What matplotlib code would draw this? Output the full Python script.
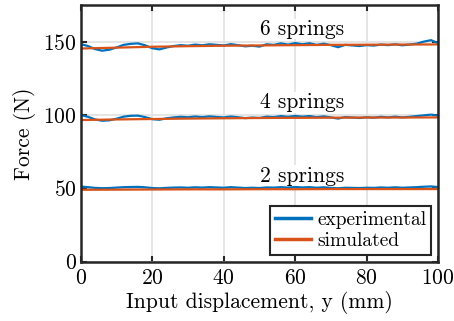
import numpy as np
import matplotlib
matplotlib.use("Agg")
import matplotlib.pyplot as plt

plt.rcParams['font.family'] = 'serif'
plt.rcParams['font.serif'] = ['cmr10']
plt.rcParams['mathtext.fontset'] = 'cm'
plt.rcParams['axes.formatter.use_mathtext'] = True

# experimental data, every 2 mm
x_exp = np.arange(0, 101, 2)
exp6 = [148.4, 147.1, 145.0, 143.9, 144.6, 146.1, 147.9, 148.6, 148.9, 147.6,
        145.6, 144.8, 146.1, 147.1, 147.7, 147.3, 148.1, 147.6, 148.3, 147.9,
        147.5, 148.4, 147.7, 146.9, 147.3, 146.7, 148.3, 147.9, 148.9, 148.1,
        149.1, 148.3, 149.0, 147.9, 148.7, 147.7, 146.3, 147.9, 147.5, 147.1,
        147.7, 147.4, 148.1, 147.7, 148.3, 147.6, 148.1, 148.7, 150.1, 151.1,
        149.1]
exp4 = [100.0, 98.8, 97.0, 96.1, 96.4, 97.5, 98.9, 99.5, 99.6, 98.6,
        97.2, 96.8, 97.8, 98.4, 98.8, 98.5, 99.0, 98.6, 99.1, 98.7,
        98.4, 99.0, 98.5, 97.9, 98.3, 98.0, 98.9, 98.6, 99.3, 98.8,
        99.4, 98.9, 99.3, 98.6, 99.1, 98.4, 97.6, 98.6, 98.3, 98.0,
        98.5, 98.2, 98.8, 98.4, 98.9, 98.4, 98.8, 99.3, 99.8, 100.3,
        99.6]
exp2 = [51.2, 50.8, 50.3, 50.1, 50.2, 50.5, 50.8, 50.9, 51.0, 50.7,
        50.2, 50.0, 50.3, 50.5, 50.6, 50.4, 50.7, 50.5, 50.8, 50.6,
        50.4, 50.8, 50.5, 50.2, 50.4, 50.2, 50.6, 50.5, 50.8, 50.5,
        50.9, 50.6, 50.8, 50.4, 50.7, 50.3, 50.0, 50.4, 50.3, 50.2,
        50.4, 50.3, 50.6, 50.4, 50.7, 50.4, 50.6, 50.8, 51.1, 51.3,
        50.9]

# simulated data, every 10 mm
x_sim = np.arange(0, 101, 10)
sim6 = [145.4, 146.0, 146.6, 147.0, 147.3, 147.5, 147.7, 147.9, 148.0, 148.1, 148.2]
sim4 = [96.6, 97.0, 97.3, 97.6, 97.8, 98.0, 98.1, 98.2, 98.3, 98.3, 98.4]
sim2 = [49.0, 49.1, 49.2, 49.3, 49.3, 49.4, 49.4, 49.5, 49.5, 49.5, 49.5]

labels = ["6 springs", "4 springs", "2 springs"]
label_y = [158.7, 108.8, 58.5]

blue = '#0072BD'
orange = '#D95319'
fs = 15.5

fig = plt.figure(figsize=(4.54, 3.21), dpi=100)
ax = fig.add_axes([0.178, 0.185, 0.787, 0.799])

for i, (e, s) in enumerate([(exp6, sim6), (exp4, sim4), (exp2, sim2)]):
    ax.plot(x_exp, e, color=blue, lw=1.6,
            label='experimental' if i == 0 else None)
    ax.plot(x_sim, s, color=orange, lw=1.6,
            label='simulated' if i == 0 else None)

for lab, ly in zip(labels, label_y):
    ax.text(62, ly, lab, fontsize=fs, ha='center', va='center', zorder=1.5,
            bbox=dict(facecolor='white', edgecolor='none', pad=0.5))

ax.set_xlim(0, 100)
ax.set_ylim(0, 175)
ax.set_xticks([0, 20, 40, 60, 80, 100])
ax.set_yticks([0, 50, 100, 150])
ax.grid(True, color='#e3e3e3', lw=1.3)
ax.set_axisbelow(True)
ax.tick_params(direction='in', top=True, right=True, length=4, width=1.5,
               labelsize=fs, colors='#262626', labelcolor='black')
ax.tick_params(axis='x', pad=5)
ax.tick_params(axis='y', pad=3)
for sp in ax.spines.values():
    sp.set_linewidth(1.8)
    sp.set_color('#262626')

ax.set_xlabel('Input displacement, y (mm)', fontsize=fs, labelpad=2)
ax.set_ylabel('Force (N)', fontsize=fs, labelpad=5)

leg = ax.legend(loc='lower right', fontsize=14, fancybox=False, framealpha=1,
                edgecolor='#262626', borderpad=0.25, handlelength=1.9,
                handletextpad=0.3, labelspacing=0.15, borderaxespad=0.35)
leg.get_frame().set_linewidth(1.5)
for h in leg.get_lines():
    h.set_linewidth(2.5)

fig.savefig('out.png', dpi=100)
